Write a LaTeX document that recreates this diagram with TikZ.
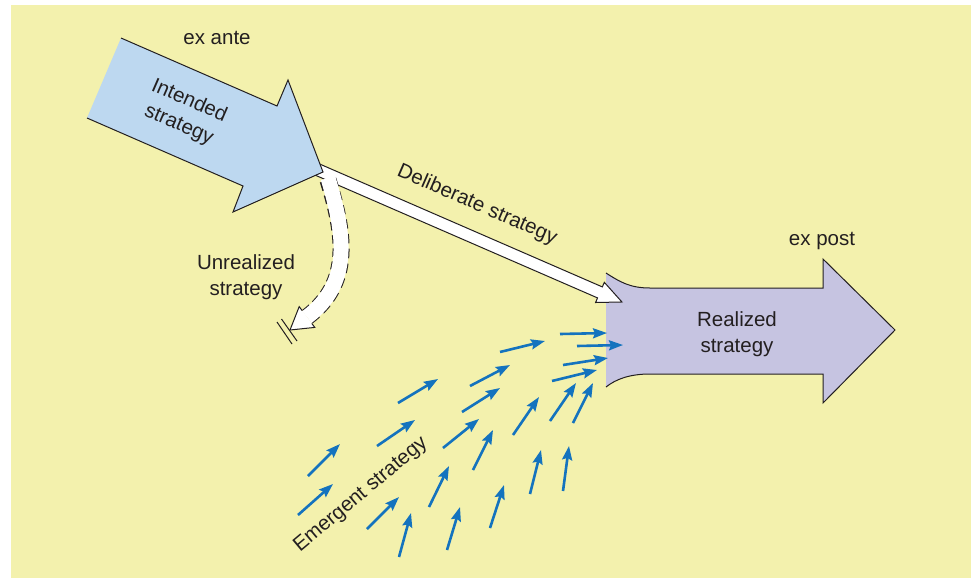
\documentclass[tikz,border=0pt]{standalone}
\usepackage{fontspec}
\setmainfont{Liberation Sans}
\usetikzlibrary{arrows.meta}
\definecolor{bg}{HTML}{F3F1AD}
\definecolor{intendfill}{HTML}{BDD8F0}
\definecolor{realfill}{HTML}{C6C4E1}
\definecolor{emerge}{HTML}{1473BE}
\definecolor{ink}{HTML}{231F20}
\begin{document}
\begin{tikzpicture}[x=1pt,y=-1pt,
  lbl/.style={font=\fontsize{20.5}{26}\selectfont, text=ink, inner sep=0pt, align=center},
  outline/.style={draw=ink, line width=1pt, line join=miter},
  emergearrow/.style={draw=emerge, line width=2.6pt,
    -{Stealth[length=14pt, width=10pt, inset=2pt]}}]
\useasboundingbox (0,0) rectangle (971,579);
\fill[bg] (11,5) rectangle (971,578);

% realized strategy: block arrow with flared tail
\fill[realfill] (606,273) .. controls (620,282) and (630,288) .. (650,288)
  -- (823,288) -- (823,259) -- (895,330) -- (823,403) -- (823,374) -- (650,374)
  .. controls (630,374) and (616,379) .. (606,387) -- cycle;
\draw[outline] (606,273) .. controls (620,282) and (630,288) .. (650,288)
  -- (823,288) -- (823,259) -- (895,330) -- (823,403) -- (823,374) -- (650,374)
  .. controls (630,374) and (616,379) .. (606,387);
\node[lbl] (realized) at (737,334) {Realized\\strategy};
\node[lbl, anchor=base] (expost) at (822,245) {ex post};

% deliberate strategy: straight white block arrow
\begin{scope}[shift={(323,172)}, rotate=-23.5]
  \fill[white] (-8,-6) -- (302,-6) -- (302,-11) -- (326,0) -- (302,11) -- (302,6) -- (-8,6) -- cycle;
  \draw[outline] (-8,-6) -- (302,-6) -- (302,-11) -- (326,0) -- (302,11) -- (302,6) -- (-8,6);
\end{scope}
\node[lbl, rotate=-23.5] (deliberate) at (477,205) {Deliberate strategy};

% unrealized strategy: curved white arrow with dashed sides
\draw[ink, line width=17pt, dash pattern=on 9pt off 5pt]
  (328,180) .. controls (345,235) and (352,283) .. (307,317);
\draw[white, line width=15pt]
  (328,178) .. controls (345,235) and (352,283) .. (307,317);
\fill[white] (302.2,310.6) -- (299.2,306.6) -- (290,330) -- (314.8,327.4) -- (311.8,323.4) -- cycle;
\draw[outline] (302.2,310.6) -- (299.2,306.6) -- (290,330) -- (314.8,327.4) -- (311.8,323.4);
\draw[ink, line width=1pt] (277,322) -- (292,344);
\draw[ink, line width=1pt] (281.5,319) -- (297,341);
\node[lbl] (unrealized) at (246,277) {Unrealized\\strategy};

% intended strategy: blue block arrow
\fill[intendfill] (121,38) -- (277,106) -- (288,80) -- (323,172) -- (233,212) -- (243,186) -- (87,118) -- cycle;
\draw[outline] (121,38) -- (277,106) -- (288,80) -- (323,172) -- (233,212) -- (243,186) -- (87,118);
\node[lbl, rotate=-23.5] (intended) at (184,113) {Intended\\strategy};
\node[lbl, anchor=base] (exante) at (217,44) {ex ante};

% emergent strategy: scattered small arrows
\foreach \ax/\ay/\bx/\by in {
  560/334/607/333, 577/346/623/345, 563/365/608/358, 552/381/597/370,
  500/352/545/341, 470/386/510/365, 462/412/500/388, 398/403/438/379,
  377/446/415/420, 443/448/479/419, 513/435/539/397, 550/421/576/383,
  573/423/593/383, 308/476/340/444, 298/515/333/484, 367/529/399/497,
  429/507/449/466, 473/470/493/430, 530/494/541/450, 563/491/569/446,
  490/528/504/485, 447/550/460/507, 399/557/411/513}
  \draw[emergearrow] (\ax,\ay) -- (\bx,\by);
\node[lbl, rotate=40] (emergent) at (361,495) {Emergent strategy};
\end{tikzpicture}
\end{document}
